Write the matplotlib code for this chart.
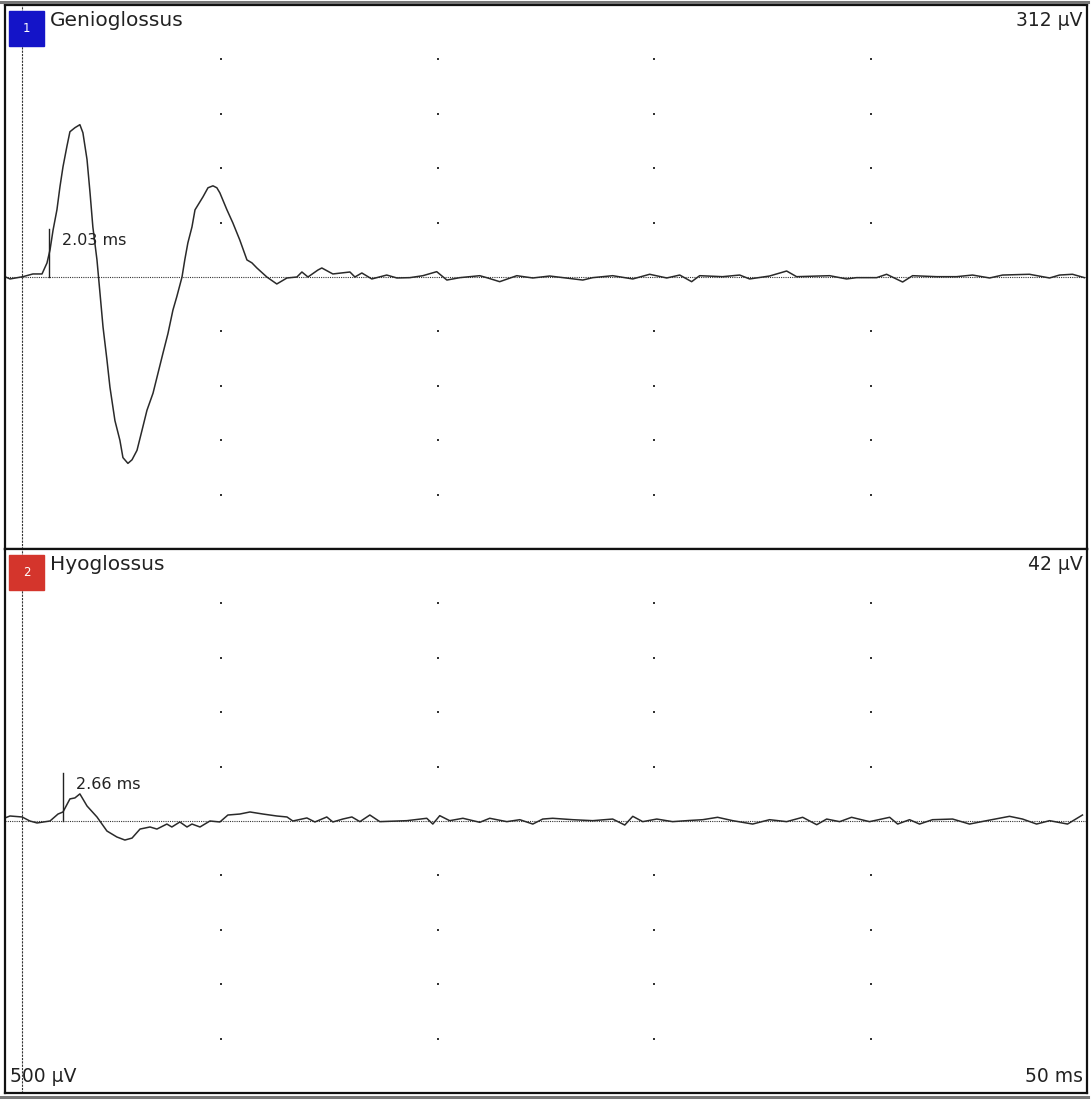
import matplotlib.pyplot as plt
from matplotlib.patches import Rectangle
from matplotlib.lines import Line2D

plt.rcParams['font.family'] = ['DejaVu Sans']

# Sweep settings
sweep_ms = 50
div_ms = 10
div_uv = 50
stim_ms = 0.79

# Channel 1: Genioglossus (time in ms, amplitude in uV)
genio_t = [0.00, 0.23, 0.83, 1.29, 1.71, 1.94, 2.08, 2.22, 2.40, 2.54, 2.68, 2.86, 3.00,
           3.23, 3.46, 3.60, 3.79, 3.93, 4.06, 4.25, 4.39, 4.53, 4.71, 4.85, 5.08, 5.31,
           5.45, 5.68, 5.87, 6.10, 6.33, 6.56, 6.84, 7.30, 7.53, 7.76, 7.94, 8.18, 8.31,
           8.45, 8.64, 8.78, 9.15, 9.38, 9.61, 9.79, 9.93, 10.25, 10.53, 10.85, 11.18,
           11.41, 11.64, 12.10, 12.56, 13.03, 13.49, 13.72,
           14.00, 14.46, 14.64, 15.15, 15.94, 16.17, 16.49, 16.95, 17.64, 18.11, 18.71,
           19.31, 19.95, 20.42, 21.02, 21.94, 22.31, 22.86, 23.65, 24.39, 25.17, 26.70,
           27.16, 28.08, 29.01, 29.79, 30.58, 31.18, 31.73, 32.10, 33.16, 33.95, 34.41,
           35.33, 36.12, 36.58, 38.11, 38.89, 39.35, 40.28, 40.74, 41.48, 41.94, 43.05,
           43.97, 44.71, 45.50, 46.10, 47.34, 48.27, 48.73, 49.33, 49.88]
genio_uv = [0.3, -1.8, 0.3, 2.8, 2.8, 12.9, 24.9, 43.0, 61.8, 83.0, 101.3, 120.0, 133.5,
            137.2, 140.0, 132.6, 108.0, 77.3, 46.0, 15.7, -15.0, -46.0, -76.0, -101.3,
            -132.0, -150.1, -166.0, -171.3, -168.0, -159.3, -141.0, -122.5, -106.8, -70.0,
            -52.0, -30.4, -18.0, 0.0, 16.0, 31.3, 46.0, 61.7, 73.7, 82.0, 83.8, 82.0, 77.3,
            62.0, 49.7, 34.0, 15.7, 13.0, 8.3, 0.0, -6.4, -0.9, 0.0, 4.6,
            0.0, 6.4, 8.3, 2.8, 4.6, 0.0, 3.7, -1.8, 1.8, -0.9, -0.6, 1.2, 4.9, -2.8, -0.6,
            1.2, -0.9, -4.3, 1.2, -0.9, 0.9, -2.8, -0.6, 1.2, -1.8, 2.5, -0.9, 1.8, -4.3, 1.2,
            0.3, 1.8, -1.8, 0.9, 5.5, 0.3, 1.2, -1.8, -0.6, -0.6, 2.5, -4.6, 1.2, 0.3, 0.3,
            1.8, -0.9, 1.8, 2.5, -0.9, 1.8, 2.5, -0.6]

# Channel 2: Hyoglossus
hyo_t = [0.00, 0.23, 0.79, 1.15, 1.48, 2.08, 2.45, 2.68, 3.00, 3.23, 3.46, 3.79, 4.25, 4.71,
         5.17, 5.54, 5.87, 6.24, 6.70, 7.02, 7.48, 7.71, 8.08, 8.41, 8.64, 9.01, 9.47, 9.93,
         10.30, 10.85, 11.32, 11.92, 12.56, 13.03, 13.30, 13.95, 14.32, 14.87, 15.15, 15.61,
         16.03, 16.40, 16.86, 17.32, 18.57, 19.49, 19.77, 20.09, 20.55, 21.16, 21.94, 22.40,
         23.19, 23.79, 24.39, 24.85, 25.31, 26.24, 27.16, 28.08, 28.64, 29.01, 29.47, 30.12,
         30.85, 31.64, 32.24, 32.93, 33.63, 34.55, 35.33, 36.12, 36.86, 37.51, 37.97, 38.57,
         39.12, 39.95, 40.88, 41.25, 41.80, 42.26, 42.86, 43.79, 44.57, 45.36, 46.42, 47.02,
         47.67, 48.27, 49.10, 49.79]
hyo_uv = [2.8, 4.6, 3.7, 0.0, -1.8, 0.0, 6.4, 8.3, 20.3, 21.2, 24.9, 13.8, 3.7, -9.2, -14.7,
          -17.5, -15.7, -7.4, -5.5, -7.4, -2.8, -5.5, -0.9, -5.5, -2.8, -5.5, 0.0, -0.9, 5.5,
          6.4, 8.3, 6.4, 4.6, 3.7, 0.0, 2.8, -0.9, 3.7, -0.9, 1.8, 3.7, -0.6, 5.5, -0.6, 0.3,
          2.5, -2.8, 4.9, 0.3, 2.5, -1.2, 2.5, -0.6, 1.2, -2.8, 1.8, 2.5, 1.2, 0.3, 1.8, -3.7,
          4.3, -0.6, 1.8, -0.6, 0.5, 1.2, 3.4, 0.3, -2.8, 1.2, -0.6, 3.4, -3.4, 1.8, -0.6, 3.4,
          -0.6, 3.4, -2.8, 1.2, -2.8, 1.2, 1.8, -2.8, 0.3, 4.3, 1.8, -2.8, 0.3, -2.8, 5.5]

channels = [
    {"name": "Genioglossus", "num": "1", "color": "#1414C8", "t": genio_t, "uv": genio_uv,
     "onset": 2.03, "amp": "312 \u00b5V"},
    {"name": "Hyoglossus", "num": "2", "color": "#D4352C", "t": hyo_t, "uv": hyo_uv,
     "onset": 2.66, "amp": "42 \u00b5V"},
]

W, H = 1092, 1100
fig = plt.figure(figsize=(W / 100, H / 100), dpi=100)

# panel boxes in pixels (left, top, right, bottom)
boxes = [(5, 5, 1087, 549), (5, 549, 1087, 1093)]

ink = "#222222"
for ch, (x0, y0, x1, y1) in zip(channels, boxes):
    ax = fig.add_axes([x0 / W, 1 - y1 / H, (x1 - x0) / W, (y1 - y0) / H])
    ax.set_xlim(0, sweep_ms)
    ax.set_ylim(-5 * div_uv, 5 * div_uv)
    ax.set_xticks([])
    ax.set_yticks([])
    for s in ax.spines.values():
        s.set_linewidth(1.6)
        s.set_color("#111111")

    # grid dots
    gx, gy = [], []
    for i in range(1, 5):
        for j in range(-4, 5):
            if j != 0:
                gx.append(i * div_ms)
                gy.append(j * div_uv)
    ax.plot(gx, gy, ls="none", marker="s", ms=1.8, color="#333333", mew=0)

    # baseline and stimulus line
    ax.axhline(0, color="#333333", lw=0.8, ls=(0, (1, 1)))
    ax.axvline(stim_ms, color="#333333", lw=0.8, ls=(0, (2, 1)))

    # trace
    ax.plot(ch["t"], ch["uv"], color="#2a2a2a", lw=1.1, solid_joinstyle="round")

    # onset marker
    ax.plot([ch["onset"], ch["onset"]], [0, 44], color="#222222", lw=1.0)
    ax.text(ch["onset"] + 0.6, 34, f"{ch['onset']:.2f} ms", fontsize=11.5, color=ink,
            va="center", ha="left")

    # channel badge and labels
    bx, by = 9, y0 + 6
    fig.patches.append(Rectangle((bx / W, 1 - (by + 35) / H), 35 / W, 35 / H,
                                 transform=fig.transFigure, color=ch["color"]))
    fig.text((bx + 17.5) / W, 1 - (by + 18) / H, ch["num"], color="white", fontsize=8.5,
             ha="center", va="center")
    fig.text(50 / W, 1 - (y0 + 15) / H, ch["name"], color=ink, fontsize=14.5,
             ha="left", va="center")
    fig.text(1083 / W, 1 - (y0 + 15) / H, ch["amp"], color=ink, fontsize=13.5,
             ha="right", va="center")

fig.text(10 / W, 1 - 1077 / H, "500 \u00b5V", color=ink, fontsize=13.5, ha="left", va="center")
fig.text(1083 / W, 1 - 1077 / H, "50 ms", color=ink, fontsize=13.5, ha="right", va="center")

# outer grey frame lines
fig.add_artist(Line2D([0, 1088 / W], [1 - 1.5 / H, 1 - 1.5 / H], color="#777777", lw=2.2))
fig.add_artist(Line2D([0, 1088 / W], [1 - 1097 / H, 1 - 1097 / H], color="#777777", lw=2.2))

fig.savefig("out.png", dpi=100)
